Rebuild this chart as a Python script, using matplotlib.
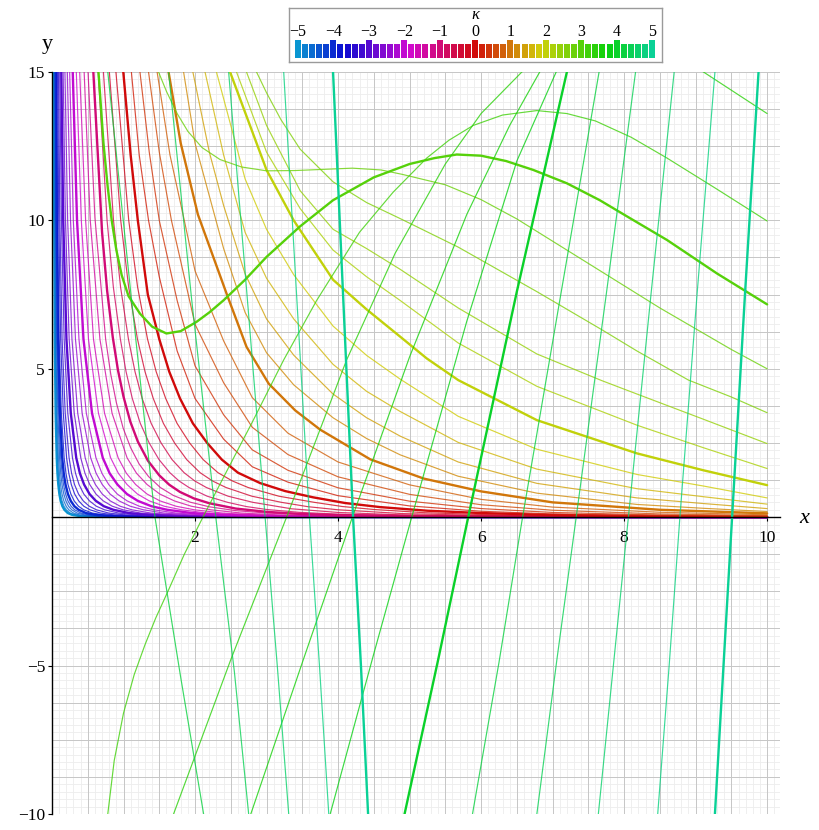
import numpy as np
import matplotlib
matplotlib.use("Agg")
import matplotlib.pyplot as plt
from matplotlib.colors import hsv_to_rgb

# --- data ------------------------------------------------------------------
KAPPA = [-5.0, -4.8, -4.6, -4.4, -4.2, -4.0, -3.8, -3.6, -3.4, -3.2,
         -3.0, -2.8, -2.6, -2.4, -2.2, -2.0, -1.8, -1.6, -1.4, -1.2,
         -1.0, -0.8, -0.6, -0.4, -0.2, 0.0, 0.2, 0.4, 0.6, 0.8,
         1.0, 1.2, 1.4, 1.6, 1.8, 2.0, 2.2, 2.4, 2.6, 2.8,
         3.0, 3.2, 3.4, 3.6, 3.8, 4.0, 4.2, 4.4, 4.6, 4.8, 5.0]

# steep curves hugging the axes (kappa -5 .. -1.4): x where each crosses Y_A
Y_A = [15.5, 10, 6, 3.5, 2, 1.48, 1.1, 0.78, 0.55, 0.37, 0.25, 0.14, 0.08, 0.028, 0.01, 0.0]
X_A = [
    [0.025, 0.031, 0.039, 0.051, 0.066, 0.076, 0.088, 0.103, 0.121, 0.145, 0.173, 0.220, 0.28, 0.41, 0.6, 10],
    [0.029, 0.035, 0.046, 0.059, 0.077, 0.089, 0.102, 0.120, 0.141, 0.168, 0.200, 0.255, 0.325, 0.477, 0.70, 10],
    [0.033, 0.041, 0.053, 0.070, 0.090, 0.104, 0.119, 0.140, 0.165, 0.197, 0.235, 0.299, 0.38, 0.558, 0.82, 10],
    [0.039, 0.049, 0.063, 0.082, 0.106, 0.122, 0.140, 0.165, 0.194, 0.231, 0.276, 0.352, 0.45, 0.657, 0.96, 10],
    [0.045, 0.056, 0.072, 0.094, 0.122, 0.140, 0.161, 0.190, 0.223, 0.266, 0.317, 0.404, 0.515, 0.753, 1.10, 10],
    [0.053, 0.066, 0.085, 0.111, 0.143, 0.164, 0.189, 0.223, 0.262, 0.313, 0.373, 0.475, 0.605, 0.887, 1.30, 10],
    [0.063, 0.078, 0.100, 0.131, 0.170, 0.195, 0.224, 0.264, 0.310, 0.370, 0.442, 0.563, 0.717, 1.051, 1.54, 10],
    [0.076, 0.094, 0.121, 0.158, 0.204, 0.235, 0.270, 0.317, 0.373, 0.445, 0.531, 0.677, 0.862, 1.263, 1.85, 10],
    [0.089, 0.110, 0.141, 0.185, 0.239, 0.274, 0.315, 0.371, 0.437, 0.521, 0.621, 0.792, 1.01, 1.477, 2.16, 10],
    [0.106, 0.132, 0.170, 0.221, 0.286, 0.329, 0.378, 0.445, 0.524, 0.620, 0.734, 0.931, 1.18, 1.693, 2.43, 10],
    [0.127, 0.157, 0.202, 0.263, 0.339, 0.390, 0.449, 0.525, 0.613, 0.725, 0.858, 1.076, 1.35, 1.913, 2.71, 10],
    [0.152, 0.188, 0.240, 0.311, 0.402, 0.461, 0.528, 0.615, 0.716, 0.843, 0.993, 1.237, 1.54, 2.149, 3.0, 10],
    [0.177, 0.219, 0.279, 0.360, 0.464, 0.531, 0.607, 0.703, 0.814, 0.953, 1.116, 1.382, 1.71, 2.354, 3.24, 10],
    [0.210, 0.259, 0.328, 0.422, 0.541, 0.617, 0.703, 0.812, 0.937, 1.094, 1.278, 1.565, 1.917, 2.620, 3.58, 10],
    [0.242, 0.298, 0.377, 0.480, 0.615, 0.698, 0.793, 0.913, 1.05, 1.221, 1.42, 1.731, 2.11, 2.854, 3.86, 10],
    [0.284, 0.350, 0.440, 0.560, 0.710, 0.806, 0.915, 1.048, 1.20, 1.390, 1.61, 1.953, 2.37, 3.155, 4.2, 10],
    [0.333, 0.41, 0.51, 0.65, 0.82, 0.928, 1.05, 1.195, 1.36, 1.569, 1.81, 2.169, 2.6, 3.440, 4.55, 10],
    [0.379, 0.47, 0.58, 0.735, 0.925, 1.040, 1.17, 1.329, 1.51, 1.734, 1.99, 2.382, 2.85, 3.729, 4.88, 10],
    [0.441, 0.535, 0.67, 0.84, 1.05, 1.182, 1.33, 1.508, 1.71, 1.948, 2.22, 2.644, 3.15, 4.067, 5.25, 10],
]

# decaying curves, kappa -1.2 .. 2.0
X_B = [
    [0.504, 0.6, 0.75, 0.822, 0.9, 0.995, 1.1, 1.219, 1.35, 1.515, 1.7, 1.934, 2.2, 2.569, 3.0, 4.0, 6.0, 10.0],
    [0.578, 0.7, 0.771, 0.85, 0.922, 1.0, 1.095, 1.2, 1.342, 1.5, 1.639, 1.79, 1.985, 2.2, 2.569, 3.0, 3.46, 4.0, 6.0, 10.0],
    [0.645, 0.77, 0.858, 0.956, 1.036, 1.123, 1.235, 1.359, 1.497, 1.648, 1.777, 1.916, 2.17, 2.457, 2.715, 3.0, 3.46, 4.0, 4.9, 6.0, 10.0],
    [0.719, 0.86, 0.959, 1.069, 1.161, 1.261, 1.387, 1.526, 1.679, 1.847, 1.997, 2.159, 2.463, 2.81, 3.35, 4.0, 4.9, 6.0, 10.0],
    [0.802, 0.961, 1.072, 1.195, 1.301, 1.416, 1.558, 1.714, 1.884, 2.071, 2.245, 2.434, 2.795, 3.21, 3.58, 4.0, 4.9, 6.0, 10.0],
    [0.894, 1.073, 1.197, 1.336, 1.457, 1.59, 1.749, 1.925, 2.114, 2.321, 2.523, 2.743, 3.173, 3.67, 4.06, 4.5, 5.2, 6.0, 8.0, 10.0],
    [0.997, 1.1, 1.2, 1.34, 1.5, 1.64, 1.79, 1.97, 2.17, 2.375, 2.6, 2.91, 3.26, 3.65, 4.1, 4.59, 5.25, 6.0, 6.93, 8.0, 10.0],
    [1.11, 1.22, 1.35, 1.5, 1.75, 2.0, 2.4, 2.8, 3.3, 4.0, 5.0, 6.0, 7.0, 8.5, 10.0],
    [1.23, 1.36, 1.5, 1.75, 2.0, 2.4, 2.8, 3.3, 4.0, 5.0, 6.0, 7.0, 8.5, 10.0],
    [1.35, 1.5, 1.67, 2.0, 2.4, 2.8, 3.3, 4.0, 5.0, 6.0, 7.0, 8.5, 10.0],
    [1.47, 1.65, 1.85, 2.0, 2.4, 2.8, 3.3, 4.0, 5.0, 6.0, 7.0, 8.5, 10.0],
    [1.63, 1.8, 2.04, 2.44, 2.72, 3.03, 3.4, 3.75, 4.45, 5.2, 6.0, 7.0, 8.5, 10.0],
    [1.84, 2.0, 2.4, 2.7, 3.0, 3.38, 3.93, 4.4, 4.87, 5.68, 6.78, 8.18, 9.11, 10.0],
    [1.97, 2.2, 2.4, 2.7, 3.0, 3.38, 3.93, 4.4, 4.87, 5.68, 6.78, 8.18, 9.11, 10.0],
    [2.14, 2.4, 2.7, 3.0, 3.38, 3.93, 4.4, 4.87, 5.68, 6.78, 8.18, 9.11, 10.0],
    [2.30, 2.4, 2.7, 3.0, 3.38, 3.93, 4.4, 4.87, 5.68, 6.78, 8.18, 9.11, 10.0],
    [2.49, 3.0, 3.38, 3.93, 4.4, 4.87, 5.24, 5.68, 6.78, 8.18, 9.11, 10.0],
]
Y_B = [
    [15, 10.1, 6.0, 4.81, 3.86, 3.0, 2.34, 1.79, 1.37, 1.0, 0.73, 0.505, 0.35, 0.221, 0.14, 0.05, 0.01, 0.0],
    [15, 9.6, 7.63, 6.06, 4.96, 4.06, 3.22, 2.55, 1.90, 1.41, 1.095, 0.85, 0.632, 0.47, 0.291, 0.18, 0.112, 0.07, 0.015, 0.001],
    [15, 10, 7.75, 6, 4.9, 4, 3.16, 2.5, 1.94, 1.5, 1.22, 1.0, 0.707, 0.5, 0.36, 0.26, 0.164, 0.104, 0.049, 0.023, 0.002],
    [15, 10, 7.75, 6, 4.9, 4, 3.16, 2.5, 1.94, 1.5, 1.22, 1.0, 0.707, 0.5, 0.283, 0.16, 0.077, 0.037, 0.003],
    [15, 10, 7.75, 6, 4.9, 4, 3.16, 2.5, 1.94, 1.5, 1.22, 1.0, 0.707, 0.5, 0.354, 0.25, 0.122, 0.06, 0.005],
    [15, 10, 7.75, 6, 4.9, 4, 3.16, 2.5, 1.94, 1.5, 1.22, 1.0, 0.707, 0.5, 0.36, 0.26, 0.153, 0.09, 0.03, 0.009],
    [15, 12.2, 10, 7.5, 6, 4.9, 4, 3.16, 2.5, 1.94, 1.5, 1.15, 0.88, 0.67, 0.477, 0.34, 0.218, 0.14, 0.079, 0.045, 0.016],
    [15, 12.2, 10, 8.1, 5.6, 4.0, 2.63, 1.70, 1.18, 0.725, 0.38, 0.20, 0.11, 0.048, 0.022],
    [15, 12.3, 10, 7.3, 5.1, 3.45, 2.27, 1.58, 0.99, 0.54, 0.29, 0.16, 0.073, 0.034],
    [15, 12.3, 10, 6.5, 4.53, 3.03, 2.11, 1.36, 0.77, 0.42, 0.235, 0.11, 0.053],
    [15, 12.2, 10, 8.3, 5.94, 4.03, 2.83, 1.86, 1.09, 0.60, 0.34, 0.166, 0.083],
    [15, 12.6, 10.2, 7.54, 5.74, 4.5, 3.6, 2.95, 1.95, 1.3, 0.87, 0.50, 0.25, 0.13],
    [15, 12.6, 9.05, 6.9, 5.54, 4.46, 3.35, 2.65, 2.1, 1.38, 0.81, 0.43, 0.30, 0.19],
    [15, 12.3, 10.5, 8.2, 6.68, 5.46, 4.15, 3.35, 2.73, 1.86, 1.14, 0.65, 0.46, 0.29],
    [15, 12.2, 9.6, 8.05, 6.68, 5.15, 4.24, 3.56, 2.52, 1.62, 0.96, 0.69, 0.44],
    [15, 14.1, 11.4, 9.7, 8.17, 6.44, 5.45, 4.65, 3.40, 2.29, 1.44, 1.05, 0.65],
    [15, 11.7, 10.0, 8.0, 7.0, 6.08, 5.35, 4.62, 3.27, 2.15, 1.58, 1.08],
]

# curves with a shoulder or a hump, kappa 2.2 .. 3.0
X_C = [
    [2.58, 3.0, 3.47, 3.93, 4.4, 4.87, 5.68, 6.78, 8.18, 9.11, 10.0],
    [2.72, 3.0, 3.47, 3.93, 4.4, 4.87, 5.68, 6.78, 7.69, 8.18, 9.11, 10.0],
    [2.86, 3.0, 3.2, 3.47, 3.93, 4.4, 4.87, 5.68, 6.78, 7.7, 8.18, 8.9, 9.5, 10.0],
    [1.49, 1.6, 1.75, 1.9, 2.1, 2.35, 2.65, 3.0, 3.4, 3.8, 4.2, 4.6, 4.9, 5.5,
     6.0, 6.5, 7.0, 7.5, 8.0, 8.5, 9.0, 9.5, 10.0],
    [0.6, 0.65, 0.72, 0.78, 0.835, 0.9, 0.975, 1.07, 1.23, 1.4, 1.6, 1.8, 2.02,
     2.2, 2.4, 2.7, 3.0, 3.47, 3.93, 4.5, 5.0, 5.35, 5.66, 6.0, 6.35, 6.73,
     7.2, 7.66, 8.1, 8.6, 9.3, 10.0],
]
Y_C = [
    [15, 12.3, 10.4, 9.0, 8.1, 7.3, 5.87, 4.41, 3.1, 2.34, 1.64],
    [15, 13.2, 11.0, 9.7, 9.05, 8.35, 7.05, 5.5, 4.6, 4.15, 3.3, 2.48],
    [15, 14.3, 13.4, 12.4, 11.3, 10.6, 10.06, 9.1, 7.6, 6.3, 5.6, 4.62, 4.05, 3.52],
    [15, 14.35, 13.6, 13.0, 12.45, 12.05, 11.8, 11.67, 11.68, 11.72, 11.76,
     11.7, 11.55, 11.2, 10.7, 10.05, 9.3, 8.55, 7.8, 7.05, 6.35, 5.65, 5.0],
    [17, 15, 12.6, 11.1, 10.0, 9.0, 8.15, 7.45, 6.86, 6.42, 6.19, 6.27, 6.58,
     6.9, 7.31, 8.0, 8.77, 9.8, 10.68, 11.45, 11.9, 12.1, 12.22, 12.18, 12.0,
     11.7, 11.25, 10.68, 10.05, 9.34, 8.21, 7.17],
]

# oscillating curves, kappa 3.2 .. 5.0 (nan separates branches leaving the view)
nan = float("nan")
X_D = [
    [0.7, 0.78, 0.87, 1.0, 1.15, 1.3, 1.45, 1.63, 1.85, 2.11, 2.4, 2.8, 3.24, 3.7,
     4.3, 4.77, 5.24, 5.55, 5.89, 6.3, 6.78, 7.2, 7.6, 8.1, 8.6, 9.3, 10.0],
    [1.55, 1.70, 2.5, 3.28, 4.12, 4.8, 5.5, 6.0, 6.57, 7.2, 7.9, 8.6, 9.11, 10.0],
    [2.6, 2.78, 3.5, 4.2, 5.0, 5.8, 6.4, 6.82, 7.0],
    [3.72, 3.89, 4.5, 5.03, 5.8, 6.5, 7.05, 7.2],
    [4.82, 4.93, 5.4, 5.82, 6.5, 7.2, 7.3],
    [0.72, 0.78, 1.1, 1.44, 1.8, 2.12, 2.2, nan, 5.8, 5.88, 6.25, 6.58, 7.1, 7.65, 7.72],
    [1.58, 1.63, 1.95, 2.29, 2.55, 2.75, 2.8, nan, 6.73, 6.78, 7.06, 7.33, 7.75, 8.16, 8.21],
    [2.43, 2.47, 2.73, 2.98, 3.15, 3.31, 3.35, nan, 7.6, 7.64, 7.85, 8.06, 8.38, 8.70, 8.74],
    [3.22, 3.24, 3.42, 3.6, 3.74, 3.87, 3.9, nan, 8.44, 8.47, 8.63, 8.78, 9.02, 9.27, 9.3],
    [3.91, 3.93, 4.07, 4.21, 4.32, 4.42, 4.44, nan, 9.25, 9.27, 9.39, 9.51, 9.69, 9.88, 9.9],
]
Y_D = [
    [-12.5, -10, -8.2, -6.6, -5.3, -4.3, -3.4, -2.45, -1.25, 0, 1.35, 3.2, 5.3, 7.3,
     9.6, 10.95, 12.1, 12.7, 13.2, 13.55, 13.7, 13.6, 13.35, 12.8, 12.1, 11.05, 9.98],
    [-11.5, -10, -4.8, 0, 5.3, 8.9, 11.9, 13.6, 15.0, 16.1, 16.4, 15.9, 15.0, 13.6],
    [-11.3, -10, -4.9, 0, 5.4, 10.2, 13.2, 15, 15.7],
    [-11.5, -10, -4.6, 0, 6.6, 12.0, 15, 15.8],
    [-11.2, -10, -4.8, 0, 7.6, 15, 16],
    [16.2, 15, 7.6, 0, -5.4, -10, -11.1, nan, -11.1, -10, -4.9, 0, 7.3, 15, 16],
    [16, 15, 7.4, 0, -5.2, -10, -11, nan, -11, -10, -4.8, 0, 7.5, 15, 16],
    [16, 15, 7.4, 0, -5, -10, -11, nan, -11, -10, -5, 0, 7.6, 15, 16],
    [16, 15, 7.5, 0, -5, -10, -11, nan, -11, -10, -5, 0, 7.5, 15, 16],
    [16, 15, 7.5, 0, -5, -10, -11, nan, -11, -10, -5, 0, 7.5, 15, 16],
]

X_TICKS = [2, 4, 6, 8, 10]
Y_TICKS = [-10, -5, 5, 10, 15]
LEGEND_LABELS = [-5, -4, -3, -2, -1, 0, 1, 2, 3, 4, 5]


def kappa_color(k):
    return hsv_to_rgb((0.09 * k % 1.0, 0.95, 0.82))


plt.rcParams["font.family"] = ["Liberation Serif", "DejaVu Serif"]

fig = plt.figure(figsize=(8.2, 8.3), dpi=100)
ax = fig.add_axes([52 / 820, 1 - 814 / 830, 728 / 820, 742 / 830])
ax.set_xlim(0, 10.18)
ax.set_ylim(-10, 15)

# grid: faint every 0.1 / 0.25, grey every 0.5 / 1.25
for gx in np.arange(0.1, 10.2, 0.1):
    ax.axvline(gx, color="#ededed", lw=0.6, zorder=0)
for gy in np.arange(-10, 15.01, 0.25):
    ax.axhline(gy, color="#ededed", lw=0.6, zorder=0)
for gx in np.arange(0.5, 10.2, 0.5):
    ax.axvline(gx, color="#c6c6c6", lw=0.7, zorder=0)
for gy in np.arange(-10, 15.01, 1.25):
    ax.axhline(gy, color="#c6c6c6", lw=0.7, zorder=0)

curves = []
for k, xs in zip(KAPPA[:19], X_A):
    curves.append((k, xs, Y_A))
for k, xs, ys in zip(KAPPA[19:36], X_B, Y_B):
    curves.append((k, xs, ys))
for k, xs, ys in zip(KAPPA[36:41], X_C, Y_C):
    curves.append((k, xs, ys))
for k, xs, ys in zip(KAPPA[41:], X_D, Y_D):
    curves.append((k, xs, ys))

for i, (k, xs, ys) in enumerate(curves):
    thick = abs(k - round(k)) < 1e-6
    ax.plot(xs, ys, color=kappa_color(k), lw=1.7 if thick else 0.85,
            alpha=1.0 if thick else 0.8, solid_joinstyle="round",
            solid_capstyle="round", zorder=2 + i * 0.01)

for side in ("top", "right"):
    ax.spines[side].set_visible(False)
ax.spines["bottom"].set_position(("data", 0))
ax.spines["left"].set_position(("data", 0))
for side in ("bottom", "left"):
    ax.spines[side].set_color("black")
    ax.spines[side].set_linewidth(1.0)
    ax.spines[side].set_zorder(5)

ax.set_xticks(X_TICKS)
ax.set_yticks(Y_TICKS)
ax.set_yticklabels(["\u2212" + str(-t) if t < 0 else str(t) for t in Y_TICKS])
ax.tick_params(axis="both", length=3, width=0.8, labelsize=12.5, pad=2)
ax.tick_params(axis="x", pad=6)

fig.text(804 / 820, 1 - 518 / 830, "x", fontsize=16, style="italic",
         ha="center", va="center")
fig.text(47 / 820, 1 - 45 / 830, "y", fontsize=16, ha="center", va="center")

# legend strip
lax = fig.add_axes([289 / 820, 1 - 62 / 830, 373 / 820, 54 / 830])
lax.set_xlim(-5.254, 5.282)
lax.set_ylim(0, 54)
heights = [18 if abs(k - round(k)) < 1e-6 else 14 for k in KAPPA]
lax.bar(KAPPA, heights, bottom=4, width=0.17,
        color=[kappa_color(k) for k in KAPPA])
for lab in LEGEND_LABELS:
    txt = "\u2212" + str(-lab) if lab < 0 else str(lab)
    lax.text(lab, 30, txt, ha="center", va="center", fontsize=11.5)
lax.text(0, 47, "\u03ba", ha="center", va="center", fontsize=12, style="italic")
lax.set_xticks([])
lax.set_yticks([])
for s in lax.spines.values():
    s.set_color("#9a9a9a")
    s.set_linewidth(1.0)

fig.savefig("out.png", dpi=100)
